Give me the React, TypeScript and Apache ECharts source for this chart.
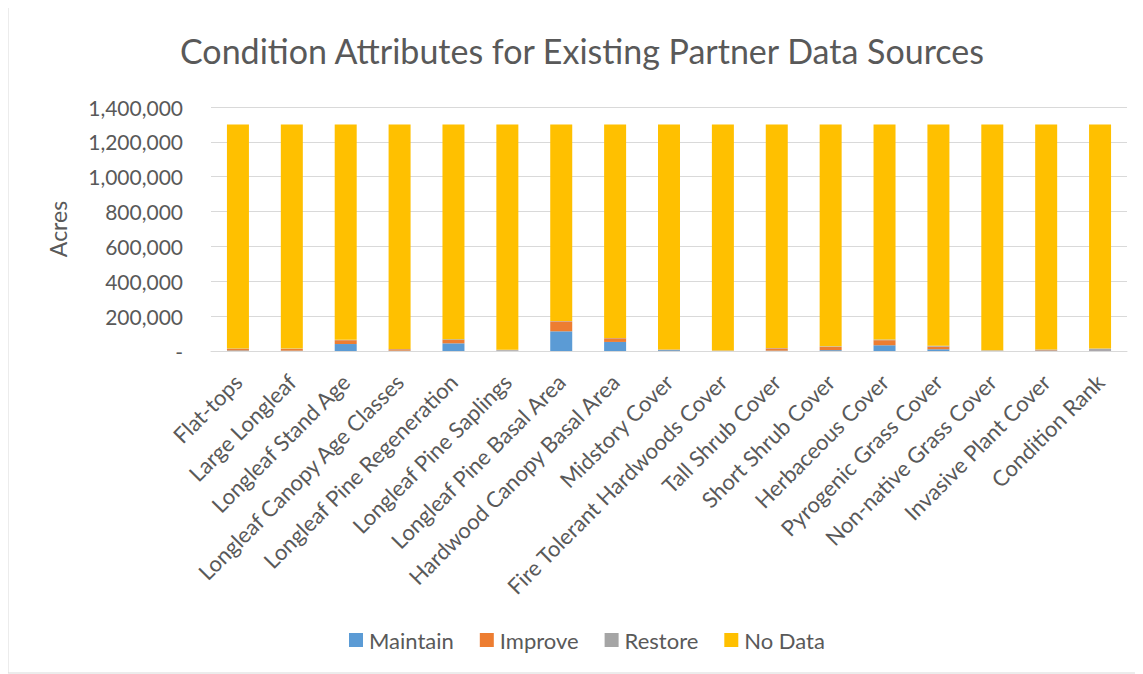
import React, { useEffect, useRef } from "react";
import * as echarts from "echarts";

const categories = [
  "Flat-tops",
  "Large Longleaf",
  "Longleaf Stand Age",
  "Longleaf Canopy Age Classes",
  "Longleaf Pine Regeneration",
  "Longleaf Pine Saplings",
  "Longleaf Pine Basal Area",
  "Hardwood Canopy Basal Area",
  "Midstory Cover",
  "Fire Tolerant Hardwoods Cover",
  "Tall Shrub Cover",
  "Short Shrub Cover",
  "Herbaceous Cover",
  "Pyrogenic Grass Cover",
  "Non-native Grass Cover",
  "Invasive Plant Cover",
  "Condition Rank",
];

const TOTAL = 1300000;
const maintain = [3000, 2000, 40000, 2000, 44000, 1000, 113000, 52000, 5000, 1000, 2000, 5000, 33000, 10000, 1000, 3000, 4000];
const improve = [10000, 10000, 22000, 8000, 20000, 1000, 57000, 21000, 2000, 1000, 13000, 19000, 29000, 15000, 1000, 4000, 2000];
const restore = [2000, 2000, 2000, 2000, 4000, 5000, 2000, 2000, 2000, 1000, 2000, 3000, 4000, 5000, 2000, 2000, 8000];
const noData = categories.map((_, i) => TOTAL - maintain[i] - improve[i] - restore[i]);

const seriesNames = ["Maintain", "Improve", "Restore", "No Data"];
const seriesColors = ["#5B9BD5", "#ED7D31", "#A5A5A5", "#FFC000"];
const seriesData = [maintain, improve, restore, noData];

const FONT = "Lato, 'Open Sans', sans-serif";

export default function App() {
  const ref = useRef<HTMLDivElement>(null);
  useEffect(() => {
    if (!ref.current) return;
    const chart = echarts.init(ref.current, undefined, { renderer: "svg" });
    chart.setOption({
      animation: false,
      textStyle: { fontFamily: FONT },
      title: {
        text: "Condition Attributes for Existing Partner Data Sources",
        left: 167,
        top: 20,
        textStyle: { fontFamily: FONT, fontWeight: "normal", fontSize: 34, color: "#595959" },
      },
      legend: {
        top: 616,
        left: 336,
        itemWidth: 14,
        itemHeight: 14,
        itemGap: 26,
        icon: "rect",
        textStyle: { fontFamily: FONT, fontSize: 22, color: "#595959", padding: [0, 0, 0, 1] },
        data: seriesNames,
      },
      grid: { left: 203, right: 16, top: 99, bottom: 323 },
      xAxis: {
        type: "category",
        data: categories,
        axisTick: { show: false },
        axisLine: { lineStyle: { color: "#d9d9d9", width: 1 } },
        axisLabel: {
          interval: 0,
          rotate: 45,
          fontFamily: FONT,
          fontSize: 22,
          color: "#595959",
          margin: 27,
        },
      },
      yAxis: {
        type: "value",
        min: 0,
        max: 1400000,
        interval: 200000,
        name: "Acres",
        nameLocation: "middle",
        nameGap: 142,
        nameRotate: 90,
        nameTextStyle: { fontFamily: FONT, fontSize: 23, color: "#595959" },
        axisLine: { show: false },
        axisTick: { show: false },
        splitLine: { lineStyle: { color: "#d9d9d9", width: 1 } },
        axisLabel: {
          fontFamily: FONT,
          fontSize: 21,
          color: "#595959",
          margin: 28,
          formatter: (v: number) => (v === 0 ? "-" : v.toLocaleString("en-US")),
        },
      },
      graphic: [
        {
          type: "rect",
          shape: { x: 0, y: -2, width: 1134, height: 667 },
          style: { fill: "none", stroke: "#d9d9d9", lineWidth: 1 },
          silent: true,
        },
      ],
      series: seriesNames.map((name, k) => ({
        name,
        type: "bar",
        stack: "total",
        barWidth: 22,
        data: seriesData[k],
        itemStyle: { color: seriesColors[k] },
      })),
    });
    return () => chart.dispose();
  }, []);
  return <div ref={ref} style={{ width: 1135, height: 666 }} />;
}
